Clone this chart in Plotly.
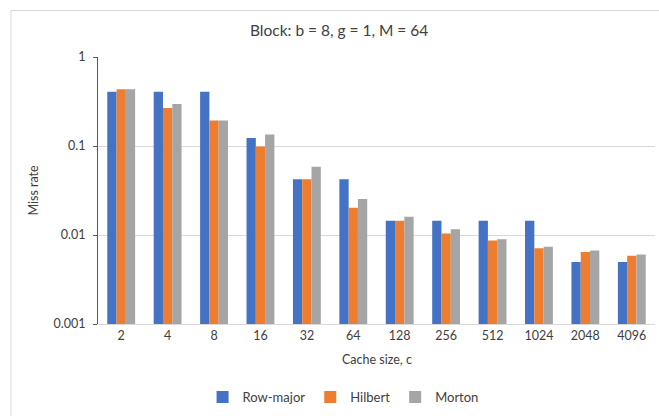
import plotly.graph_objects as go

# Cache sizes (categories) and miss rates per layout
cache_sizes = ["2", "4", "8", "16", "32", "64", "128", "256", "512", "1024", "2048", "4096"]
row_major = [0.408, 0.408, 0.408, 0.123, 0.0423, 0.0423, 0.0145, 0.0145, 0.0145, 0.0145, 0.00497, 0.00497]
hilbert = [0.434, 0.267, 0.194, 0.0985, 0.0423, 0.0202, 0.0145, 0.0104, 0.00867, 0.00711, 0.00643, 0.00584]
morton = [0.434, 0.296, 0.194, 0.135, 0.0585, 0.0254, 0.016, 0.0116, 0.00896, 0.00736, 0.00671, 0.00605]

y_tick_vals = [0.001, 0.01, 0.1, 1]
y_tick_text = ["0.001", "0.01", "0.1", "1"]

TEXT = "#404040"
GRID = "#d9d9d9"
FONT = "Lato"

fig = go.Figure()
for name, vals, color in [
    ("Row-major", row_major, "#4472C4"),
    ("Hilbert", hilbert, "#ED7D31"),
    ("Morton", morton, "#A5A5A5"),
]:
    fig.add_trace(go.Bar(x=cache_sizes, y=vals, name=name,
                         marker=dict(color=color, line=dict(width=0))))

fig.update_layout(
    width=659, height=416,
    margin=dict(l=98, r=4, t=57, b=89),
    paper_bgcolor="white", plot_bgcolor="white",
    font=dict(family=FONT, size=12, color=TEXT),
    barmode="group", bargap=0.4, bargroupgap=0,
    showlegend=True,
    legend=dict(orientation="h", x=0.44, xanchor="center", y=-0.274, yanchor="middle",
                font=dict(size=13, color=TEXT), itemwidth=30, traceorder="normal"),
    xaxis=dict(type="category", showline=True, linecolor=GRID, linewidth=1,
               ticks="", showgrid=False, tickfont=dict(size=12.5, color=TEXT)),
    yaxis=dict(type="log", range=[-3, 0], tickvals=y_tick_vals, ticktext=y_tick_text,
               showgrid=True, gridcolor=GRID, gridwidth=1,
               showline=True, linecolor="#595959", linewidth=1,
               ticks="outside", ticklen=4, tickcolor="#595959", ticklabelstandoff=5,
               tickfont=dict(size=12.5, color=TEXT), zeroline=False),
    annotations=[
        dict(text="Block: b = 8, g = 1, M = 64", xref="paper", yref="paper",
             x=(339 - 98) / 557, y=(327 - 30) / 270, xanchor="center", yanchor="middle",
             showarrow=False, font=dict(size=15.5, color=TEXT)),
        dict(text="Miss rate", xref="paper", yref="paper",
             x=(33 - 98) / 557, y=0.5, textangle=-90, xanchor="center", yanchor="middle",
             showarrow=False, font=dict(size=12.5, color=TEXT)),
        dict(text="Cache size, c", xref="paper", yref="paper",
             x=0.5, y=(327 - 363) / 270, xanchor="center", yanchor="middle",
             showarrow=False, font=dict(size=12.5, color=TEXT)),
    ],
    shapes=[
        # chart area border (left and top edges)
        dict(type="line", xref="paper", yref="paper",
             x0=(11 - 98) / 557, x1=(11 - 98) / 557, y0=-0.4, y1=(327 - 10) / 270,
             line=dict(color=GRID, width=1)),
        dict(type="line", xref="paper", yref="paper",
             x0=(11 - 98) / 557, x1=1.1, y0=(327 - 10) / 270, y1=(327 - 10) / 270,
             line=dict(color=GRID, width=1)),
    ],
)

fig.write_html("out.html")
